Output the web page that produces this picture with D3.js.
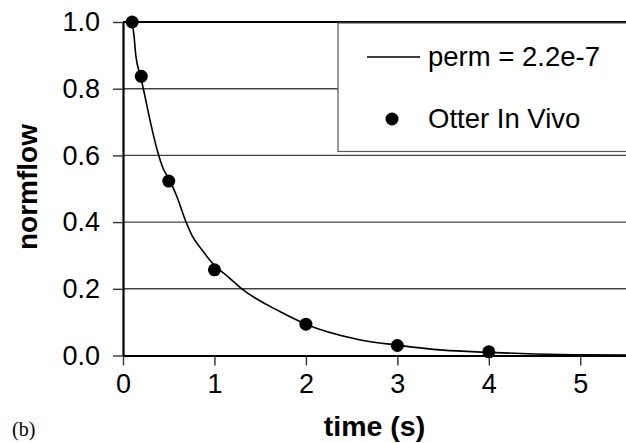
<!DOCTYPE html>
<html>
<head>
<meta charset="utf-8">
<script src="https://cdn.jsdelivr.net/npm/d3@7"></script>
<style>
  body { margin: 0; background: #fff; }
  svg { display: block; }
  text { font-family: "Liberation Sans", Arial, sans-serif; fill: #000; }
</style>
</head>
<body>
<svg id="chart" width="626" height="443"></svg>
<script>
// measured points (Otter In Vivo)
const obsTime = [0.1, 0.2, 0.5, 1.0, 2.0, 3.0, 4.0];
const obsFlow = [1.0, 0.837, 0.523, 0.257, 0.094, 0.030, 0.011];

// model curve, perm = 2.2e-7
const fitTime = [0.1, 0.12, 0.14, 0.19, 0.23, 0.3, 0.37, 0.44, 0.51, 0.59, 0.69, 0.76, 0.86, 0.99, 1.15, 1.3, 1.72, 2.0, 2.56, 3.0, 3.5, 4.0, 4.5, 5.0, 5.5];
const fitFlow = [1.0, 0.96, 0.90, 0.839, 0.79, 0.70, 0.62, 0.56, 0.526, 0.476, 0.40, 0.357, 0.318, 0.273, 0.236, 0.20, 0.131, 0.094, 0.049, 0.031, 0.016, 0.0095, 0.0045, 0.002, 0.001];

const xTicks = [0, 1, 2, 3, 4, 5];
const yTicks = [0, 0.2, 0.4, 0.6, 0.8, 1.0];
const legendLabels = ['perm = 2.2e-7', 'Otter In Vivo'];

const svg = d3.select('#chart');
const plotLeft = 123, plotRight = 626, plotTop = 22, plotBottom = 355.5;

const x = d3.scaleLinear().domain([0, 5.5]).range([plotLeft, plotRight]);
const y = d3.scaleLinear().domain([0, 1]).range([plotBottom, plotTop]);

// gridlines
svg.append('g')
  .selectAll('line')
  .data(yTicks.filter(d => d > 0 && d < 1))
  .enter().append('line')
  .attr('x1', plotLeft).attr('x2', plotRight)
  .attr('y1', d => y(d)).attr('y2', d => y(d))
  .attr('stroke', '#444')
  .attr('stroke-width', 1.4);

// top frame line
svg.append('line')
  .attr('x1', plotLeft).attr('x2', plotRight)
  .attr('y1', y(1)).attr('y2', y(1))
  .attr('stroke', '#000').attr('stroke-width', 2.2);

// legend box (covers gridlines)
const lg = svg.append('g');
lg.append('rect')
  .attr('x', 338).attr('y', y(1) + 1)
  .attr('width', 300).attr('height', 151.5 - y(1) - 1)
  .attr('fill', '#fff')
  .attr('stroke', '#555')
  .attr('stroke-width', 1.2);
lg.append('line')
  .attr('x1', 367).attr('x2', 420)
  .attr('y1', 57).attr('y2', 57)
  .attr('stroke', '#000').attr('stroke-width', 1.5);
lg.append('circle')
  .attr('cx', 392).attr('cy', 119).attr('r', 6.5)
  .attr('fill', '#000');
lg.selectAll('text')
  .data(legendLabels)
  .enter().append('text')
  .attr('x', 428)
  .attr('y', (d, i) => 66 + i * 62)
  .attr('font-size', 27.5)
  .text(d => d);

// axes
const xAxis = svg.append('g')
  .attr('transform', `translate(0,${plotBottom})`)
  .call(d3.axisBottom(x).tickValues(xTicks).tickFormat(d3.format('d')).tickSize(10).tickSizeOuter(0).tickPadding(8));
const yAxis = svg.append('g')
  .attr('transform', `translate(${plotLeft},0)`)
  .call(d3.axisLeft(y).tickValues(yTicks).tickFormat(d3.format('.1f')).tickSize(10).tickSizeOuter(0).tickPadding(13));

[xAxis, yAxis].forEach(a => {
  a.select('.domain').attr('stroke', '#000').attr('stroke-width', 2.2);
  a.selectAll('.tick line').attr('stroke', '#333').attr('stroke-width', 1.4);
  a.selectAll('.tick text')
    .attr('font-size', 27)
    .attr('fill', '#000');
});
xAxis.selectAll('.tick text').attr('dy', '0.74em');

// model curve
const line = d3.line()
  .x(d => x(d[0]))
  .y(d => y(d[1]))
  .curve(d3.curveMonotoneX);
svg.append('path')
  .datum(fitTime.map((t, i) => [t, fitFlow[i]]))
  .attr('d', line)
  .attr('fill', 'none')
  .attr('stroke', '#000')
  .attr('stroke-width', 1.6);

// observed points
svg.append('g')
  .selectAll('circle')
  .data(obsTime.map((t, i) => [t, obsFlow[i]]))
  .enter().append('circle')
  .attr('cx', d => x(d[0]))
  .attr('cy', d => y(d[1]))
  .attr('r', 6.5)
  .attr('fill', '#000');

// axis titles
svg.append('text')
  .attr('x', (plotLeft + plotRight) / 2)
  .attr('y', 436)
  .attr('text-anchor', 'middle')
  .attr('font-size', 28.5)
  .attr('font-weight', 'bold')
  .text('time (s)');

svg.append('text')
  .attr('transform', 'translate(37,187) rotate(-90)')
  .attr('text-anchor', 'middle')
  .attr('font-size', 28)
  .attr('font-weight', 'bold')
  .text('normflow');

svg.append('text')
  .attr('x', 12)
  .attr('y', 436)
  .style('font-family', '"Liberation Serif", "Times New Roman", serif')
  .attr('font-size', 20)
  .text('(b)');
</script>
</body>
</html>
